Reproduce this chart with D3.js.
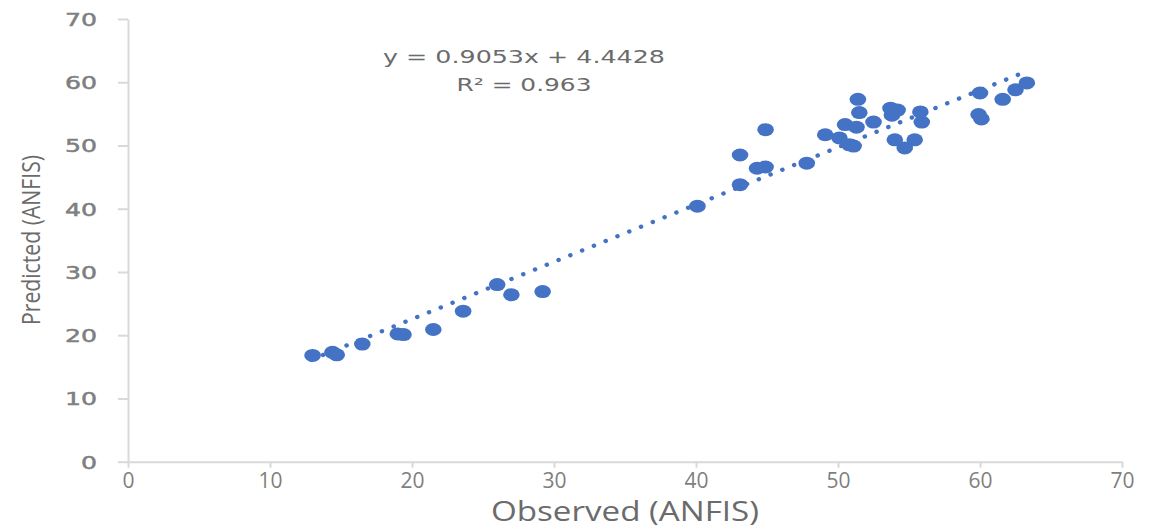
<!DOCTYPE html>
<html><head><meta charset="utf-8">
<script src="https://cdn.jsdelivr.net/npm/d3@7"></script>
<style>body{margin:0;background:#fff}svg{display:block}</style>
</head><body>
<svg id="c" width="1159" height="528"></svg>
<script>
const observed = [13.0, 14.4, 14.7, 16.5, 19.0, 19.4, 21.5, 23.6, 26.0, 27.0, 29.2, 40.1, 43.1, 43.1, 44.3, 44.9, 44.9, 47.8, 49.1, 50.1, 50.8, 50.5, 51.3, 51.1, 51.4, 51.5, 52.5, 53.7, 54.2, 53.8, 55.8, 55.9, 54.0, 55.4, 54.7, 59.9, 60.1, 60.0, 61.6, 62.5, 63.3];
const predicted = [16.8, 17.3, 16.9, 18.6, 20.2, 20.1, 20.9, 23.8, 28.0, 26.4, 26.9, 40.4, 43.8, 48.5, 46.4, 46.6, 52.5, 47.2, 51.7, 51.2, 50.1, 53.3, 52.9, 49.9, 57.3, 55.2, 53.7, 55.9, 55.6, 54.8, 55.3, 53.7, 50.9, 50.9, 49.6, 54.9, 54.2, 58.3, 57.3, 58.8, 59.9];
const xTicks = [0, 10, 20, 30, 40, 50, 60, 70];
const yTicks = [0, 10, 20, 30, 40, 50, 60, 70];
const slope = 0.9053, intercept = 4.4428;
const trendRange = [12.9, 63.2];
const eqText = "y = 0.9053x + 4.4428";
const r2Text = "R² = 0.963";
const xTitle = "Observed (ANFIS)";
const yTitle = "Predicted (ANFIS)";

const svg = d3.select("#c");
const x = d3.scaleLinear().domain([0, 70]).range([128, 1122]);
const y = d3.scaleLinear().domain([0, 70]).range([461.7, 19]);
const axisColor = "#d9d9d9", labelColor = "#7f7f7f";

// X axis
const gx = svg.append("g").attr("transform", `translate(0,${y(0)})`)
  .call(d3.axisBottom(x).tickValues(xTicks).tickSize(6).tickPadding(12).tickSizeOuter(0));
gx.select(".domain").attr("stroke", axisColor).attr("stroke-width", 2);
gx.selectAll(".tick line").attr("stroke", axisColor).attr("stroke-width", 2);
gx.selectAll(".tick text").attr("fill", labelColor).attr("font-family", "Open Sans, sans-serif")
  .attr("font-size", 21).attr("dy", "0.4em");

// Y axis
const gy = svg.append("g").attr("transform", `translate(${x(0)},0)`)
  .call(d3.axisLeft(y).tickValues(yTicks).tickSize(10).tickPadding(0).tickSizeOuter(0));
gy.select(".domain").attr("stroke", axisColor).attr("stroke-width", 2);
gy.selectAll(".tick line").attr("stroke", axisColor).attr("stroke-width", 2);
gy.selectAll(".tick text").attr("fill", labelColor).attr("stroke", labelColor).attr("stroke-width", 0.5)
  .attr("font-family", "DejaVu Sans, sans-serif")
  .attr("font-size", 18).attr("x", -31 / 1.4).attr("dy", "0.36em")
  .attr("transform", "scale(1.4,1)");

// Trendline
svg.append("line")
  .attr("x1", x(trendRange[0])).attr("y1", y(slope * trendRange[0] + intercept))
  .attr("x2", x(trendRange[1])).attr("y2", y(slope * trendRange[1] + intercept))
  .attr("stroke", "#4472C4").attr("stroke-width", 4.5)
  .attr("stroke-linecap", "round").attr("stroke-dasharray", "0.1 12.6");

// Points
svg.append("g").selectAll("ellipse").data(observed.map((o, i) => [o, predicted[i]]))
  .join("ellipse")
  .attr("cx", d => x(d[0])).attr("cy", d => y(d[1]))
  .attr("rx", 8.3).attr("ry", 6.5).attr("fill", "#4472C4");

// Equation
svg.append("text").attr("x", 524).attr("y", 63).attr("text-anchor", "middle")
  .attr("fill", "#6b6b6b").attr("font-family", "DejaVu Sans, sans-serif").attr("font-size", 17)
  .attr("textLength", 282).attr("lengthAdjust", "spacingAndGlyphs").text(eqText);
svg.append("text").attr("x", 524).attr("y", 91).attr("text-anchor", "middle")
  .attr("fill", "#6b6b6b").attr("font-family", "DejaVu Sans, sans-serif").attr("font-size", 17)
  .attr("textLength", 135).attr("lengthAdjust", "spacingAndGlyphs").text(r2Text);

// Axis titles
svg.append("text").attr("x", 625).attr("y", 521).attr("text-anchor", "middle")
  .attr("fill", "#6b6b6b").attr("font-family", "Open Sans, sans-serif").attr("font-size", 27)
  .attr("textLength", 268).attr("lengthAdjust", "spacingAndGlyphs").text(xTitle);
svg.append("text").attr("transform", "translate(40,240) rotate(-90)").attr("text-anchor", "middle")
  .attr("fill", "#6b6b6b").attr("font-family", "Open Sans, sans-serif").attr("font-size", 26)
  .attr("textLength", 170).attr("lengthAdjust", "spacingAndGlyphs").text(yTitle);
</script>
</body></html>
